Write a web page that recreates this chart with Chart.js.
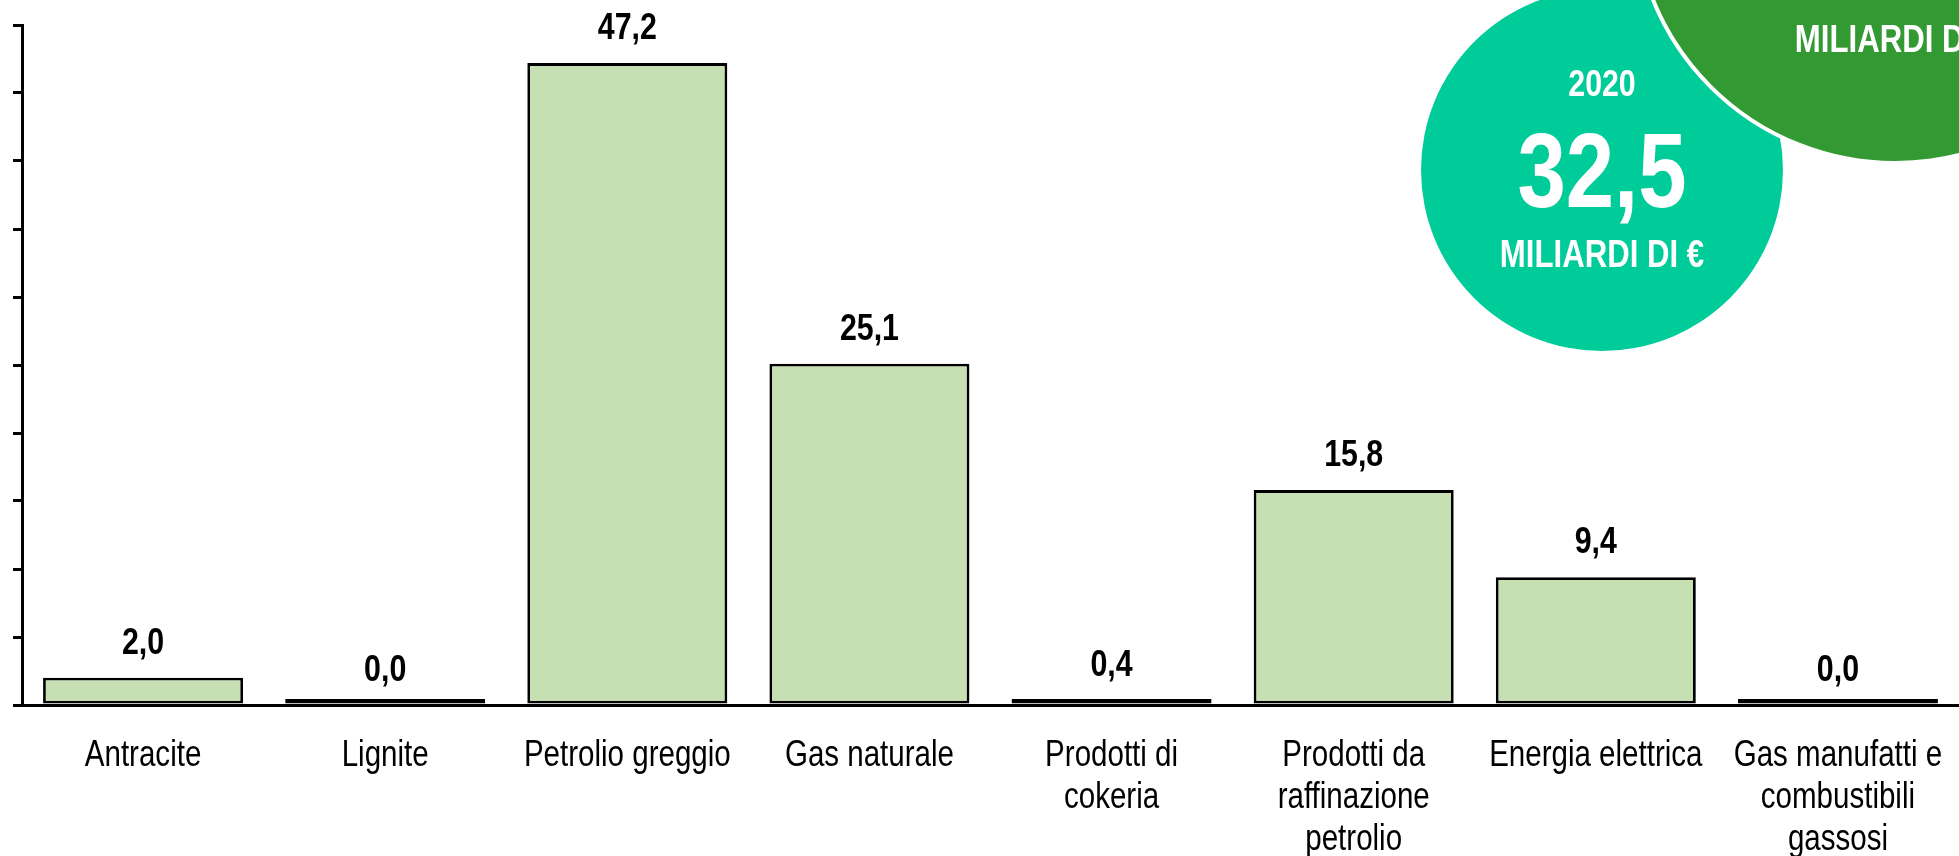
<!DOCTYPE html>
<html lang="it">
<head>
<meta charset="utf-8">
<title>Importazioni per prodotto energetico</title>
<script src="https://cdn.jsdelivr.net/npm/chart.js@4.4.1/dist/chart.umd.min.js"></script>
<style>
  html, body { margin: 0; padding: 0; background: #fff; overflow: hidden; }
  #wrap { position: relative; width: 1959px; height: 856px; overflow: hidden; }
  #chart { position: absolute; left: 0; top: 0; }
  .bubble { position: absolute; border-radius: 50%; box-sizing: border-box; }
  .bubble--teal { left: 1421px; top: -11px; width: 362px; height: 362px; background: #00cc99; z-index: 2; }
  .bubble--green { left: 1632px; top: -361px; width: 526px; height: 526px; background: #339933; border: 4px solid #fff; z-index: 3; }
  .btxt { position: absolute; width: 400px; text-align: center; color: #fff; font-weight: bold;
          font-family: "Liberation Sans", Arial, sans-serif; z-index: 4; white-space: nowrap;
          transform: scaleX(0.82); transform-origin: 50% 50%; }
</style>
</head>
<body>
<div id="wrap">
  <canvas id="chart" width="1959" height="856"></canvas>
  <div class="bubble bubble--teal"></div>
  <div class="bubble bubble--green"></div>
  <div class="btxt" id="tealYear"  style="left:1402px; top:65px;  font-size:37px;  line-height:37px;"></div>
  <div class="btxt" id="tealValue" style="left:1402px; top:117px; font-size:106px; line-height:106px;"></div>
  <div class="btxt" id="tealUnit"  style="left:1402px; top:235px; font-size:38px;  line-height:38px;"></div>
  <div class="btxt" id="greenUnit" style="left:1697px; top:20px;  font-size:38px;  line-height:38px;"></div>
</div>
<script>
// categorie e valori (miliardi di euro)
const categories = [
  'Antracite',
  'Lignite',
  'Petrolio greggio',
  'Gas naturale',
  ['Prodotti di', 'cokeria'],
  ['Prodotti da', 'raffinazione', 'petrolio'],
  'Energia elettrica',
  ['Gas manufatti e', 'combustibili', 'gassosi'],
];
const values = [2.0, 0.0, 47.2, 25.1, 0.4, 15.8, 9.4, 0.0];

const yMin = 0;
const yMax = 50;
const yStep = 5;

const totalYear = '2020';
const totalValue = 32.5;
const unitLabel = 'MILIARDI DI €';

// niente Arial Narrow installato: Liberation Sans compresso orizzontalmente
const FONT = '"Liberation Sans", Arial, sans-serif';
const NARROW = 0.82;
const fmt = v => v.toFixed(1).replace('.', ',');

document.getElementById('tealYear').textContent = totalYear;
document.getElementById('tealValue').textContent = fmt(totalValue);
document.getElementById('tealUnit').textContent = unitLabel;
document.getElementById('greenUnit').textContent = unitLabel;

function narrowText(ctx, text, x, y) {
  ctx.save();
  ctx.translate(x, y);
  ctx.scale(NARROW, 1);
  ctx.fillText(text, 0, 0);
  ctx.restore();
}

// etichette dei valori + etichette delle categorie
const narrowLabels = {
  id: 'narrowLabels',
  afterDatasetsDraw(chart) {
    const { ctx } = chart;
    const xScale = chart.scales.x;
    const yScale = chart.scales.y;
    const meta = chart.getDatasetMeta(0);
    ctx.save();
    ctx.fillStyle = '#000';
    ctx.textAlign = 'center';
    ctx.textBaseline = 'alphabetic';

    ctx.font = 'bold 37px ' + FONT;
    meta.data.forEach((bar, i) => {
      const v = values[i];
      narrowText(ctx, fmt(v), bar.x, yScale.getPixelForValue(v) - 24);
    });

    ctx.font = '36px ' + FONT;
    const base = yScale.getPixelForValue(yMin);
    categories.forEach((c, i) => {
      const lines = Array.isArray(c) ? c : [c];
      const x = xScale.getPixelForTick(i);
      lines.forEach((ln, j) => narrowText(ctx, ln, x, base + 61 + j * 42));
    });
    ctx.restore();
  },
};

new Chart(document.getElementById('chart').getContext('2d'), {
  type: 'bar',
  data: {
    labels: categories,
    datasets: [{
      data: values,
      backgroundColor: '#c6e0b4',
      borderColor: '#000',
      borderWidth: 2.8,
      borderSkipped: false,
      minBarLength: 6,
      categoryPercentage: 1,
      barPercentage: 0.826,
    }],
  },
  options: {
    responsive: false,
    animation: false,
    events: [],
    layout: { padding: { left: 13, right: 0, top: 25, bottom: 151 } },
    plugins: { legend: { display: false }, tooltip: { enabled: false } },
    scales: {
      x: {
        grid: { display: false, drawTicks: false },
        border: { display: true, color: '#000', width: 3 },
        ticks: { display: false },
      },
      y: {
        min: yMin,
        max: yMax,
        ticks: { stepSize: yStep, display: false },
        grid: { drawOnChartArea: false, drawTicks: true, tickLength: 9, color: '#000', lineWidth: 3 },
        border: { display: true, color: '#000', width: 3 },
      },
    },
  },
  plugins: [narrowLabels],
});
</script>
</body>
</html>
